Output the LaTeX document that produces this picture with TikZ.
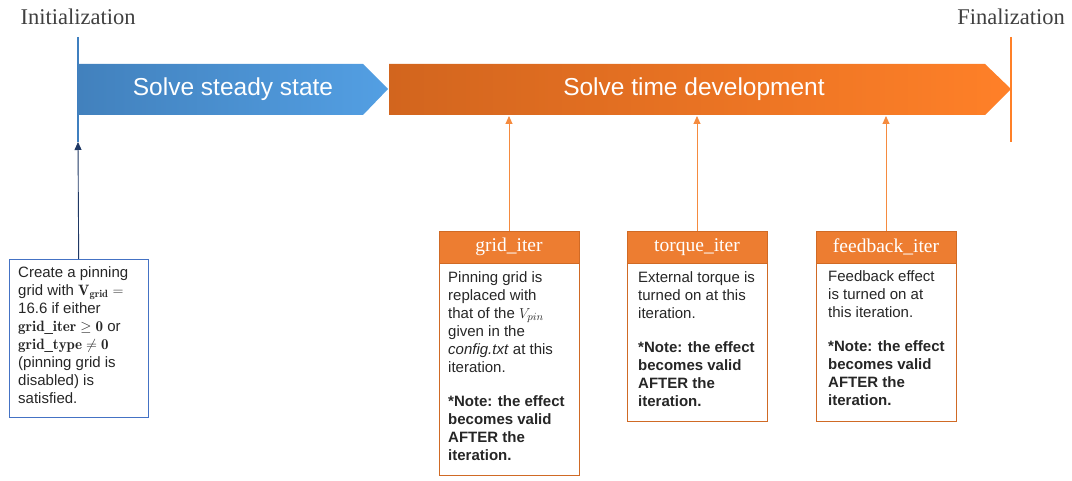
\documentclass[tikz,border=0pt]{standalone}
\usepackage{fontspec}
\setsansfont{Liberation Sans}
\newfontfamily\headfont{Liberation Serif}
\usetikzlibrary{arrows.meta}
\definecolor{blueA}{HTML}{4281BD}
\definecolor{blueB}{HTML}{539FE3}
\definecolor{blueline}{HTML}{3F7FBF}
\definecolor{navy}{HTML}{1F3864}
\definecolor{boxblue}{HTML}{4472C4}
\definecolor{orangeA}{HTML}{D2651E}
\definecolor{orangeB}{HTML}{FF8028}
\definecolor{hdorange}{HTML}{ED7D31}
\definecolor{frameorange}{HTML}{D06A25}
\definecolor{pinorange}{HTML}{F58B3F}
\definecolor{textgray}{HTML}{262626}
\definecolor{labelgray}{HTML}{404040}
\tikzset{
	bodytext/.style={anchor=north west, inner sep=0pt, align=left, text=textgray, font=\fontsize{15}{18}\sffamily},
	headbox/.style={fill=hdorange, draw=frameorange, minimum width=140pt, minimum height=32pt, inner sep=0pt, text=white, font=\fontsize{19.5}{21}\headfont},
	bodybox/.style={draw=frameorange, minimum width=140pt, anchor=north, inner sep=0pt},
	pin/.style={draw=pinorange, line width=0.9pt, -{Triangle[length=8pt,width=7pt]}}
}
\begin{document}
\begin{tikzpicture}[x=1pt, y=-1pt]
			\useasboundingbox (0,0) rectangle (1072,481);
			%phase labels
			\node[text=labelgray, font=\fontsize{22.5}{24}\headfont] (init) at (78,17){Initialization};
			\node[text=labelgray, font=\fontsize{22.5}{24}\headfont] (final) at (1011,17){Finalization};
			\draw[blueline, line width=1.5pt] (78,37) -- (78,142);
			\draw[orangeB, line width=1.5pt] (1011,37) -- (1011,142);
			
			%phase arrows
			\shade[left color=blueA, right color=blueB] (78,64) -- (363,64) -- (388,89) -- (363,115) -- (78,115) -- cycle;
			\shade[left color=orangeA, right color=orangeB] (389,64) -- (985,64) -- (1011,89) -- (985,115) -- (389,115) -- cycle;
			\node[text=white, font=\fontsize{24.5}{26}\sffamily] (steady) at (233,89){Solve steady state};
			\node[text=white, font=\fontsize{24.5}{26}\sffamily] (timedev) at (694,89){Solve time development};
			
			%initial grid
			\node[draw=boxblue, anchor=north west, minimum width=139pt, minimum height=158pt] (initbox) at (9,259){};
			\coordinate (initmark) at (78,142);
			\draw[navy, line width=0.9pt, -{Triangle[length=8pt,width=7pt]}] (initbox.north) -- (initmark);
			\node[bodytext] (inittext) at (18,266){Create a pinning\\grid with $\mathbf{V_{grid}}=$\\16.6 if either\\$\mathbf{grid\_iter}\geq\mathbf{0}$ or\\$\mathbf{grid\_type}\neq\mathbf{0}$\\(pinning grid is\\disabled) is\\satisfied.};
			
			%iteration switches
			\foreach \x/\name/\lab in {509/grid/grid\_iter, 697/torque/torque\_iter, 886/feed/feedback\_iter}{
				\node[headbox] (\name head) at (\x,247){\lab};
				\coordinate (\name mark) at (\x,116);
				\draw[pin] (\name head.north) -- (\name mark);
			}
			\node[bodybox, minimum height=212pt] (gridbody) at (gridhead.south){};
			\node[bodybox, minimum height=158pt] (torquebody) at (torquehead.south){};
			\node[bodybox, minimum height=158pt] (feedbody) at (feedhead.south){};
			\node[bodytext] (gridtext) at (448,271){Pinning grid is\\replaced with\\that of the $V_{pin}$\\given in the\\\textit{config.txt} at this\\iteration.\\[16pt]\textbf{*Note: the effect}\\\textbf{becomes valid}\\\textbf{AFTER the}\\\textbf{iteration.}};
			\node[bodytext] (torquetext) at (638,271){External torque is\\turned on at this\\iteration.\\[16pt]\textbf{*Note: the effect}\\\textbf{becomes valid}\\\textbf{AFTER the}\\\textbf{iteration.}};
			\node[bodytext] (feedtext) at (828,270){Feedback effect\\is turned on at\\this iteration.\\[16pt]\textbf{*Note: the effect}\\\textbf{becomes valid}\\\textbf{AFTER the}\\\textbf{iteration.}};
		\end{tikzpicture}
\end{document}
